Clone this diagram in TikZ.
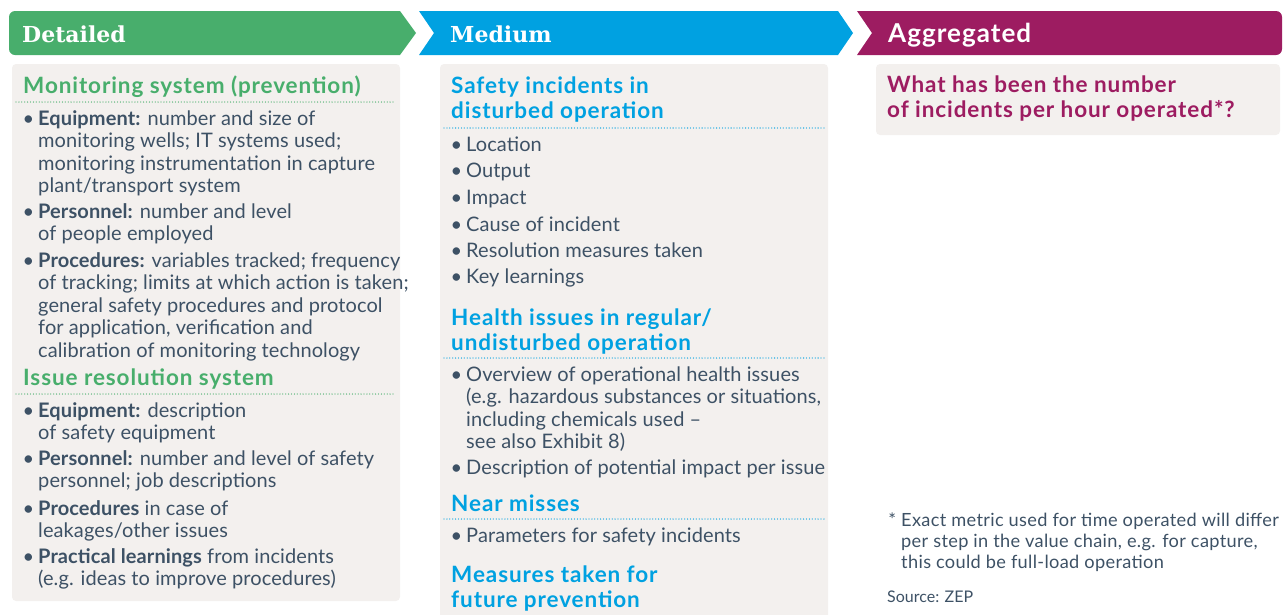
\documentclass[tikz,border=0pt]{standalone}
\usepackage{fontspec}
\setmainfont{Lato}
\newfontfamily\slabfont{DejaVu Serif}
\definecolor{zgreen}{HTML}{48AE6C}
\definecolor{zblue}{HTML}{00A1E1}
\definecolor{zmag}{HTML}{9D1C61}
\definecolor{panelbg}{HTML}{F3F0EE}
\definecolor{txt}{HTML}{3D5165}
\tikzset{
  panel/.style={fill=panelbg, rounded corners=4pt},
  hdtext/.style={anchor=base west, text=white, inner sep=0pt, font=\slabfont\bfseries\fontsize{22}{26}\selectfont},
  hdsans/.style={anchor=base west, text=white, inner sep=0pt, font=\bfseries\fontsize{26}{30}\selectfont\addfontfeatures{LetterSpace=4}},
  body/.style={anchor=base west, inner sep=0pt, align=left, text=txt, font=\fontsize{20}{22.6}\selectfont\addfontfeatures{LetterSpace=0.5}},
  headtxt/.style={anchor=base west, inner sep=0pt, align=left, font=\bfseries\fontsize{22.5}{25}\selectfont\addfontfeatures{LetterSpace=4}},
  foot/.style={anchor=base west, inner sep=0pt, align=left, text=txt, font=\fontsize{18.2}{21}\selectfont\addfontfeatures{LetterSpace=1.8}},
  dotline/.style={line width=1.3pt, dash pattern=on 0pt off 2.9pt, line cap=round},
}
\newcommand{\bul}{\llap{\textbullet\hspace{4pt}}}
\begin{document}
\begin{tikzpicture}[x=1pt,y=-1pt]
\useasboundingbox (0,0) rectangle (1287,614);
% header bands
\fill[zgreen] (400,11) -- (416,33) -- (400,55) -- (15,55) arc[start angle=90,end angle=180,radius=6] -- (9,17) arc[start angle=180,end angle=270,radius=6] -- cycle;
\fill[zblue] (419,11) -- (838,11) -- (853,33) -- (838,55) -- (419,55) -- (434,33) -- cycle;
\fill[zmag] (857,11) -- (1276,11) arc[start angle=270,end angle=360,radius=6] -- (1282,49) arc[start angle=0,end angle=90,radius=6] -- (857,55) -- (872,33) -- cycle;
\node[hdtext] (hd) at (22,42) {Detailed};
\node[hdtext] (hm) at (450,42) {Medium};
\node[hdsans] (ha) at (888,42) {Aggregated};
% panels
\fill[panel] (12,64) rectangle (400,601);
\fill[panel] (440,64) rectangle (828,630);
\fill[panel] (876,64) rectangle (1280,135);
% left column (multi-line nodes are placed by the baseline of their last line)
\node[headtxt, text=zgreen] (lh1) at (23,93) {Monitoring system (prevention)};
\draw[dotline, zgreen] (16,102) -- (395,102);
\node[body] (l1) at (38,192.8) {\bul\textbf{Equipment:} number and size of\\monitoring wells; IT systems used;\\monitoring instrumentation in capture\\plant/transport system};
\node[body] (l2) at (38,240.6) {\bul\textbf{Personnel:} number and level\\of people employed};
\node[body] (l3) at (38,357.4) {\bul\textbf{Procedures:} variables tracked; frequency\\of tracking; limits at which action is taken;\\general safety procedures and protocol\\for application, verification and\\calibration of monitoring technology};
\node[headtxt, text=zgreen] (lh2) at (23,385) {Issue resolution system};
\draw[dotline, zgreen] (16,394) -- (395,394);
\node[body] (l4) at (38,439.6) {\bul\textbf{Equipment:} description\\of safety equipment};
\node[body] (l5) at (38,487.6) {\bul\textbf{Personnel:} number and level of safety\\personnel; job descriptions};
\node[body] (l6) at (38,537.6) {\bul\textbf{Procedures} in case of\\leakages/other issues};
\node[body] (l7) at (38,585.6) {\bul\textbf{Practical learnings} from incidents\\(e.g. ideas to improve procedures)};
% middle column
\node[headtxt, text=zblue] (mh1) at (451,118) {Safety incidents in\\disturbed operation};
\draw[dotline, zblue] (444,128) -- (824,128);
\node[body] (m1) at (466,151) {\bul Location};
\node[body] (m2) at (466,177) {\bul Output};
\node[body] (m3) at (466,204) {\bul Impact};
\node[body] (m4) at (466,231) {\bul Cause of incident};
\node[body] (m5) at (466,257) {\bul Resolution measures taken};
\node[body] (m6) at (466,283) {\bul Key learnings};
\node[headtxt, text=zblue] (mh2) at (451,350) {Health issues in regular/\\undisturbed operation};
\draw[dotline, zblue] (444,358) -- (824,358);
\node[body] (m7) at (466,448.8) {\bul Overview of operational health issues\\(e.g. hazardous substances or situations,\\including chemicals used --\\see also Exhibit 8)};
\node[body] (m8) at (466,474) {\bul Description of potential impact per issue};
\node[headtxt, text=zblue] (mh3) at (451,511) {Near misses};
\draw[dotline, zblue] (444,519) -- (824,519);
\node[body] (m9) at (466,542) {\bul Parameters for safety incidents};
\node[headtxt, text=zblue] (mh4) at (451,607) {Measures taken for\\future prevention};
% right column
\node[headtxt, text=zmag] (rq) at (887,117) {What has been the number\\of incidents per hour operated*?};
\node[foot] (fn) at (901,568) {\llap{*\hspace{5pt}}Exact metric used for time operated will differ\\per step in the value chain, e.g. for capture,\\this could be full-load operation};
\node[anchor=base west, inner sep=0pt, text=txt, font=\fontsize{16}{18}\selectfont] (src) at (887,602) {Source: ZEP};
\end{tikzpicture}
\end{document}
